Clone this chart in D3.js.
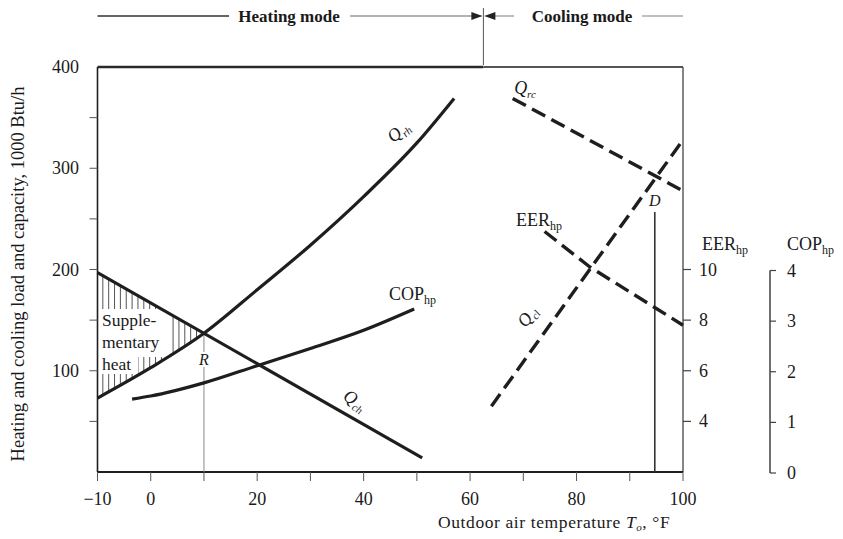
<!DOCTYPE html>
<html>
<head>
<meta charset="utf-8">
<script src="https://cdn.jsdelivr.net/npm/d3@7"></script>
<style>
  body { margin: 0; background: #fff; }
  svg { font-family: "Liberation Serif", "DejaVu Serif", serif; fill: #1a1a1a; }
</style>
</head>
<body>
<svg id="chart" width="843" height="539"></svg>
<script>
// outdoor temperature ticks (deg F) and load ticks (1000 Btu/h)
var tempLabels = [-10, 0, 20, 40, 60, 80, 100];
var tempMinor = [10, 30, 50, 70, 90];
var loadLabels = [100, 200, 300, 400];
var loadMinor = [50, 150, 250, 350];
var eerTicks = [4, 6, 8, 10];
var copTicks = [0, 1, 2, 3, 4];

// heating load (falls with temperature)
var heatLoadT = [-10, 51];
var heatLoadQ = [197, 14];
// heat pump heating capacity
var heatCapT = [-10, 0, 10, 20, 30, 40, 50, 57];
var heatCapQ = [73, 103, 137, 180, 224, 272, 325, 369];
// heating COP
var copT = [-3.5, 0, 10, 20, 30, 40, 49.5];
var copV = [1.46, 1.52, 1.78, 2.12, 2.46, 2.82, 3.24];
// cooling capacity (dashed, falling)
var coolCapT = [68, 99.5];
var coolCapQ = [369, 279];
// cooling load (dashed, rising)
var coolLoadT = [64, 100];
var coolLoadQ = [65, 328];
// cooling EER
var eerT = [74, 82.5, 100];
var eerV = [11.5, 10.1, 7.8];

var modeSplit = 62.5;   // heating / cooling changeover
var balanceR = 10;      // heating balance point
var balanceD = 94.7;    // cooling balance point

var svg = d3.select("#chart");
var x = d3.scaleLinear().domain([-10, 100]).range([97.5, 683]);
var y = d3.scaleLinear().domain([0, 400]).range([472, 67]);
var yEer = d3.scaleLinear().domain([2, 18]).range([472, 67]);
var yCop = d3.scaleLinear().domain([0, 8]).range([473, 68]);

var ink = "#1e1e1e";
var fs = 18;

function pts(ts, vs) { return ts.map(function(t, i) { return [t, vs[i]]; }); }
var lineQ = d3.line().x(function(d) { return x(d[0]); }).y(function(d) { return y(d[1]); }).curve(d3.curveMonotoneX);
var lineEer = d3.line().x(function(d) { return x(d[0]); }).y(function(d) { return yEer(d[1]); });
var lineCop = d3.line().x(function(d) { return x(d[0]); }).y(function(d) { return yCop(d[1]); }).curve(d3.curveMonotoneX);
function interp(ts, vs, t) { return d3.scaleLinear().domain(ts).range(vs)(t); }

// hatching for supplementary heat
var hatch = d3.range(-9, 10, 1.1);
svg.append("g").selectAll("line").data(hatch).join("line")
  .attr("x1", function(t) { return x(t); }).attr("x2", function(t) { return x(t); })
  .attr("y1", function(t) { return y(interp(heatLoadT, heatLoadQ, t)); })
  .attr("y2", function(t) { return y(interp(heatCapT, heatCapQ, t)); })
  .attr("stroke", "#555").attr("stroke-width", 1);

// text block with white background
var sup = [["Supple-", 326], ["mentary", 348], ["heat", 370]];
svg.append("rect").attr("x", 100).attr("y", 309).attr("width", 68).attr("height", 48).attr("fill", "#fff");
svg.append("rect").attr("x", 100).attr("y", 355).attr("width", 38).attr("height", 19).attr("fill", "#fff");
svg.append("g").selectAll("text").data(sup).join("text")
  .attr("x", 102).attr("y", function(d) { return d[1]; })
  .attr("font-size", 17.5).text(function(d) { return d[0]; });

// frame
svg.append("line").attr("x1", x(-10)).attr("x2", x(modeSplit)).attr("y1", y(400)).attr("y2", y(400))
  .attr("stroke", "#2a2a2a").attr("stroke-width", 2.6);
svg.append("line").attr("x1", x(modeSplit)).attr("x2", x(100)).attr("y1", y(400)).attr("y2", y(400))
  .attr("stroke", "#555").attr("stroke-width", 1.8);
svg.append("line").attr("x1", x(-10)).attr("x2", x(-10)).attr("y1", y(400)).attr("y2", y(0))
  .attr("stroke", ink).attr("stroke-width", 1.6);
svg.append("line").attr("x1", x(100)).attr("x2", x(100)).attr("y1", y(400)).attr("y2", y(0))
  .attr("stroke", "#444").attr("stroke-width", 1.3);
svg.append("line").attr("x1", x(-10)).attr("x2", x(100)).attr("y1", y(0)).attr("y2", y(0))
  .attr("stroke", ink).attr("stroke-width", 1.8);

// left axis ticks
svg.append("g").selectAll("line").data(loadLabels.slice(0, 3).concat(loadMinor)).join("line")
  .attr("x1", x(-10) - 8).attr("x2", x(-10))
  .attr("y1", function(d) { return y(d); }).attr("y2", function(d) { return y(d); })
  .attr("stroke", "#555").attr("stroke-width", 1);
svg.append("g").selectAll("text").data(loadLabels).join("text")
  .attr("x", 79).attr("y", function(d) { return y(d) + 6; })
  .attr("text-anchor", "end").attr("font-size", fs).text(function(d) { return d; });

// bottom axis ticks
svg.append("g").selectAll("line").data(tempLabels.concat(tempMinor)).join("line")
  .attr("x1", function(d) { return x(d); }).attr("x2", function(d) { return x(d); })
  .attr("y1", y(0)).attr("y2", y(0) + 9)
  .attr("stroke", "#555").attr("stroke-width", 1);
svg.append("g").selectAll("text").data(tempLabels).join("text")
  .attr("x", function(d) { return x(d); }).attr("y", 505)
  .attr("text-anchor", "middle").attr("font-size", fs)
  .text(function(d) { return d < 0 ? "\u2212" + (-d) : d; });

// EER axis on the right border
svg.append("g").selectAll("line").data(eerTicks).join("line")
  .attr("x1", x(100)).attr("x2", x(100) + 8)
  .attr("y1", function(d) { return yEer(d); }).attr("y2", function(d) { return yEer(d); })
  .attr("stroke", "#444").attr("stroke-width", 1.2);
svg.append("g").selectAll("text").data(eerTicks).join("text")
  .attr("x", 699).attr("y", function(d) { return yEer(d) + 6; })
  .attr("font-size", fs).text(function(d) { return d; });
var eerTitle = svg.append("text").attr("x", 702).attr("y", 250).attr("font-size", fs);
eerTitle.append("tspan").text("EER");
eerTitle.append("tspan").attr("dy", 4).attr("font-size", 12).text("hp");

// COP axis
var copX = 770;
svg.append("line").attr("x1", copX).attr("x2", copX).attr("y1", yCop(4)).attr("y2", yCop(0))
  .attr("stroke", "#333").attr("stroke-width", 1.4);
svg.append("g").selectAll("line").data(copTicks).join("line")
  .attr("x1", copX).attr("x2", copX + 6)
  .attr("y1", function(d) { return yCop(d); }).attr("y2", function(d) { return yCop(d); })
  .attr("stroke", "#444").attr("stroke-width", 1.2);
svg.append("g").selectAll("text").data(copTicks).join("text")
  .attr("x", 787).attr("y", function(d) { return yCop(d) + 6; })
  .attr("font-size", fs).text(function(d) { return d; });
var copTitle = svg.append("text").attr("x", 787).attr("y", 250).attr("font-size", fs);
copTitle.append("tspan").text("COP");
copTitle.append("tspan").attr("dy", 4).attr("font-size", 12).text("hp");

// balance point guides
svg.append("line").attr("x1", x(balanceR)).attr("x2", x(balanceR))
  .attr("y1", y(interp(heatLoadT, heatLoadQ, balanceR))).attr("y2", y(0))
  .attr("stroke", "#888").attr("stroke-width", 1);
svg.append("line").attr("x1", x(balanceD)).attr("x2", x(balanceD))
  .attr("y1", 212).attr("y2", y(0))
  .attr("stroke", "#333").attr("stroke-width", 1.6);

// curves
svg.append("path").attr("d", lineQ(pts(heatLoadT, heatLoadQ)))
  .attr("fill", "none").attr("stroke", ink).attr("stroke-width", 3.2);
svg.append("path").attr("d", lineQ(pts(heatCapT, heatCapQ)))
  .attr("fill", "none").attr("stroke", ink).attr("stroke-width", 3.2);
svg.append("path").attr("d", lineCop(pts(copT, copV)))
  .attr("fill", "none").attr("stroke", ink).attr("stroke-width", 3.2);
svg.append("path").attr("d", lineQ(pts(coolCapT, coolCapQ)))
  .attr("fill", "none").attr("stroke", ink).attr("stroke-width", 3.4).attr("stroke-dasharray", "15,7");
svg.append("path").attr("d", lineQ(pts(coolLoadT, coolLoadQ)))
  .attr("fill", "none").attr("stroke", ink).attr("stroke-width", 3.4).attr("stroke-dasharray", "15,7");
svg.append("path").attr("d", lineEer(pts(eerT, eerV)))
  .attr("fill", "none").attr("stroke", ink).attr("stroke-width", 3.4).attr("stroke-dasharray", "15,7");

// curve labels
function qLabel(sub, cx, cy, rot) {
  var t = svg.append("text").attr("transform", "translate(" + cx + "," + cy + ") rotate(" + rot + ")")
    .attr("font-size", 18).attr("font-style", "italic").attr("text-anchor", "middle");
  t.append("tspan").text("Q");
  t.append("tspan").attr("dy", 4).attr("font-size", 11).text(sub);
}
qLabel("rh", 402, 136, -42);
qLabel("rc", 525, 94, 0);
qLabel("ch", 352, 405, 32);
qLabel("cl", 532, 320, -55);

var copLbl = svg.append("text").attr("x", 389).attr("y", 300).attr("font-size", 18);
copLbl.append("tspan").text("COP");
copLbl.append("tspan").attr("dy", 4).attr("font-size", 12).text("hp");
var eerLbl = svg.append("text").attr("x", 516).attr("y", 226).attr("font-size", 18);
eerLbl.append("tspan").text("EER");
eerLbl.append("tspan").attr("dy", 4).attr("font-size", 12).text("hp");

svg.append("text").attr("x", x(balanceR)).attr("y", 365).attr("text-anchor", "middle")
  .attr("font-size", 16).attr("font-style", "italic")
  .attr("stroke", "#fff").attr("stroke-width", 4).attr("paint-order", "stroke").text("R");
svg.append("text").attr("x", x(balanceD)).attr("y", 206).attr("text-anchor", "middle")
  .attr("font-size", 16).attr("font-style", "italic").text("D");

// axis titles
svg.append("text").attr("transform", "translate(24,274) rotate(-90)")
  .attr("text-anchor", "middle").attr("font-size", 18.5)
  .text("Heating and cooling load and capacity, 1000 Btu/h");
var xt = svg.append("text").attr("x", 438).attr("y", 528).attr("font-size", 17.5)
  .attr("letter-spacing", 0.6);
xt.append("tspan").text("Outdoor air temperature ");
xt.append("tspan").attr("font-style", "italic").text("T");
xt.append("tspan").attr("dy", 3).attr("font-size", 11).attr("font-style", "italic").text("o");
xt.append("tspan").attr("dy", -3).text(", \u00b0F");

// mode header
var xm = x(modeSplit);
svg.append("line").attr("x1", xm).attr("x2", xm).attr("y1", 8).attr("y2", y(400) - 2)
  .attr("stroke", "#555").attr("stroke-width", 1);
svg.append("line").attr("x1", x(-10)).attr("x2", 229).attr("y1", 16).attr("y2", 16)
  .attr("stroke", "#333").attr("stroke-width", 1.3);
svg.append("line").attr("x1", 350).attr("x2", xm - 2).attr("y1", 16).attr("y2", 16)
  .attr("stroke", "#999").attr("stroke-width", 1.3);
svg.append("line").attr("x1", xm + 2).attr("x2", 514).attr("y1", 16).attr("y2", 16)
  .attr("stroke", "#999").attr("stroke-width", 1.3);
svg.append("line").attr("x1", 642).attr("x2", x(100)).attr("y1", 16).attr("y2", 16)
  .attr("stroke", "#aaa").attr("stroke-width", 1.3);
svg.append("path").attr("d", "M" + (xm - 1) + ",16 L" + (xm - 12) + ",12 L" + (xm - 12) + ",20 Z").attr("fill", "#222");
svg.append("path").attr("d", "M" + (xm + 1) + ",16 L" + (xm + 12) + ",12 L" + (xm + 12) + ",20 Z").attr("fill", "#222");
svg.append("text").attr("x", 289).attr("y", 22).attr("text-anchor", "middle")
  .attr("font-size", 17).attr("font-weight", "bold").text("Heating mode");
svg.append("text").attr("x", 582).attr("y", 22).attr("text-anchor", "middle")
  .attr("font-size", 17).attr("font-weight", "bold").text("Cooling mode");
</script>
</body>
</html>
